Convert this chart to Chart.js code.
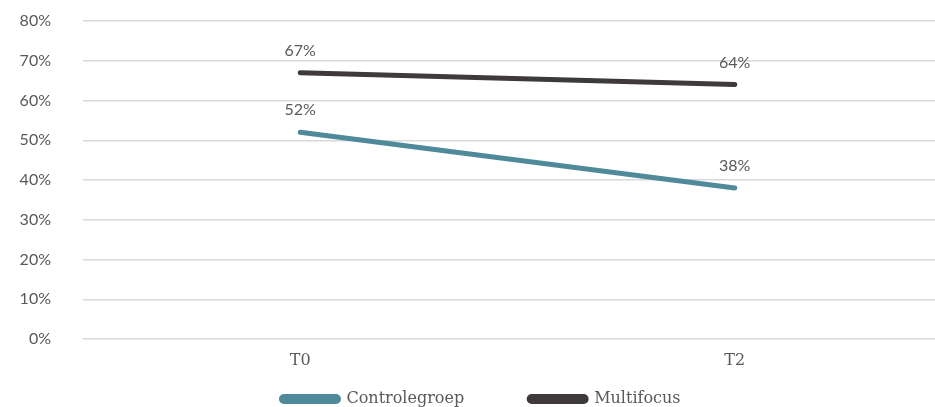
<!DOCTYPE html>
<html>
<head>
<meta charset="utf-8">
<script src="https://cdn.jsdelivr.net/npm/chart.js@4"></script>
<style>
  html, body { margin: 0; padding: 0; background: #fff; overflow: hidden; width: 935px; height: 407px; }
  #wrap { position: absolute; left: 0; top: 0; width: 960px; height: 463px; }
</style>
</head>
<body>
<div id="wrap"><canvas id="c" width="960" height="463"></canvas></div>
<script>
// Share of participants per measurement moment
const categories = ['T0', 'T2'];
const controlegroep = [52, 38];
const multifocus = [67, 64];
const yMin = 0, yMax = 80, yStep = 10;

const numFont = { family: 'Lato', size: 16 };
const textFont = { family: 'DejaVu Serif', size: 16 };
const grey = '#595959';
const legendGap = 65;    // horizontal space between legend entries
const legendLift = 46;   // pull the legend row up under the axis labels
const legendNudge = 5;   // small shift to the right

// Writes each point's value just above it
const valueLabels = {
  id: 'valueLabels',
  afterDatasetsDraw(chart) {
    const ctx = chart.ctx;
    ctx.save();
    ctx.font = `${numFont.size}px ${numFont.family}`;
    ctx.fillStyle = grey;
    ctx.textAlign = 'center';
    ctx.textBaseline = 'middle';
    chart.data.datasets.forEach((ds, i) => {
      chart.getDatasetMeta(i).data.forEach((pt, j) => {
        ctx.fillText(ds.data[j] + '%', pt.x, pt.y - 22);
      });
    });
    ctx.restore();
  }
};

// Legend padding is used both across and down; keep the wide spacing but raise the row
const raiseLegend = {
  id: 'raiseLegend',
  afterInit(chart) {
    const lg = chart.legend;
    if (!lg) return;
    const draw = lg.draw;
    lg.draw = function (area) {
      this.ctx.save();
      this.ctx.translate(legendNudge, -legendLift);
      draw.call(this, area);
      this.ctx.restore();
    };
  }
};

new Chart(document.getElementById('c'), {
  type: 'line',
  data: {
    labels: categories,
    datasets: [
      { label: 'Controlegroep', data: controlegroep, borderColor: '#4f8a9b', backgroundColor: '#4f8a9b' },
      { label: 'Multifocus', data: multifocus, borderColor: '#3e393a', backgroundColor: '#3e393a' }
    ]
  },
  options: {
    responsive: false,
    animation: false,
    layout: { padding: { left: 0, right: 8, top: 21, bottom: 0 } },
    elements: {
      line: { borderWidth: 5, borderCapStyle: 'round', tension: 0, fill: false },
      point: { radius: 0, hoverRadius: 0 }
    },
    scales: {
      x: {
        offset: true,
        grid: { display: false, drawTicks: false },
        border: { display: false },
        ticks: { color: grey, font: textFont, padding: 12 },
        afterFit: s => { s.height = 33; }
      },
      y: {
        min: yMin, max: yMax,
        grid: { color: '#d9d9d9', lineWidth: 1.5, drawTicks: false },
        border: { display: false },
        ticks: { stepSize: yStep, color: grey, font: numFont, padding: 32, callback: v => v + '%' },
        afterFit: s => { s.width = 83; s.paddingTop = 0; s.paddingBottom = 0; }
      }
    },
    plugins: {
      tooltip: { enabled: false },
      legend: {
        position: 'bottom',
        labels: {
          color: grey, font: textFont,
          boxWidth: 57, boxHeight: 5,
          useBorderRadius: true, borderRadius: 2.5,
          padding: legendGap
        }
      }
    }
  },
  plugins: [valueLabels, raiseLegend]
});
</script>
</body>
</html>
